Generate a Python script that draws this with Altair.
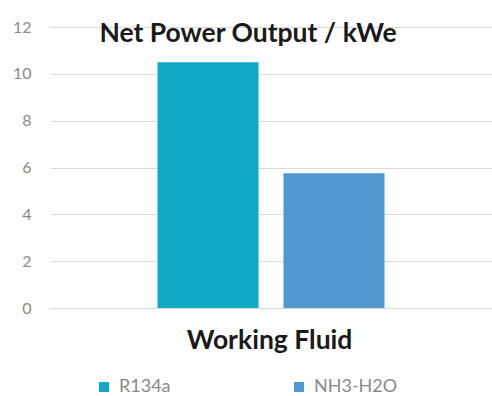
import altair as alt
import pandas as pd

# Net power output per working fluid
fluids = ["R134a", "NH3-H2O"]
power_kwe = [10.5, 5.75]
colors = ["#0FA9C5", "#4F99D0"]
group = ["Working Fluid"] * len(fluids)

df = pd.DataFrame({"group": group, "fluid": fluids, "power": power_kwe})

FONT = "Lato"

chart = (
    alt.Chart(df)
    .mark_bar()
    .encode(
        x=alt.X(
            "group:N",
            title="Working Fluid",
            scale=alt.Scale(paddingInner=0, paddingOuter=0.4736),
            axis=alt.Axis(
                labels=False,
                ticks=False,
                domain=False,
                grid=False,
                titleFont=FONT,
                titleFontSize=26.5,
                titleFontWeight="bold",
                titleColor="#1a1a1a",
                titlePadding=19,
                titleX=219,
            ),
        ),
        xOffset=alt.XOffset(
            "fluid:N",
            sort=fluids,
            scale=alt.Scale(paddingInner=0.198, paddingOuter=0),
        ),
        y=alt.Y(
            "power:Q",
            title=None,
            scale=alt.Scale(domain=[0, 12]),
            axis=alt.Axis(
                values=[0, 2, 4, 6, 8, 10, 12],
                domain=False,
                ticks=False,
                labelPadding=19,
                labelFont=FONT,
                labelFontSize=16,
                labelColor="#8a8a8a",
                gridColor="#DADADA",
                gridWidth=1,
            ),
        ),
        color=alt.Color(
            "fluid:N",
            sort=fluids,
            scale=alt.Scale(domain=fluids, range=colors),
            legend=alt.Legend(
                title=None,
                orient="none",
                legendX=45,
                legendY=351,
                direction="horizontal",
                symbolType="square",
                symbolSize=100,
                symbolStrokeWidth=0,
                symbolOffset=0,
                labelOffset=6,
                labelFont=FONT,
                labelFontSize=18,
                labelColor="#8a8a8a",
                columnPadding=119,
            ),
        ),
    )
    .properties(
        width=442,
        height=281,
        background="white",
        title=alt.TitleParams(
            "Net Power Output / kWe",
            font=FONT,
            fontSize=26.5,
            fontWeight="bold",
            color="#1a1a1a",
            anchor="middle",
            dx=-23,
            dy=32,
        ),
        padding={"left": 50, "top": 27, "right": 0, "bottom": 88},
        autosize=alt.AutoSizeParams(type="none"),
    )
    .configure_view(strokeWidth=0)
)

chart.save("out.html", embed_options={"renderer": "svg", "actions": False})
